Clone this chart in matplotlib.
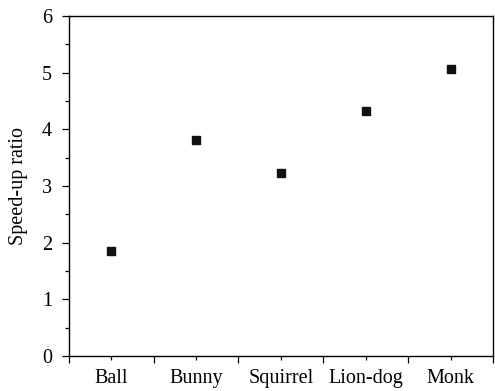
import numpy as np
import matplotlib.pyplot as plt
from matplotlib.ticker import MultipleLocator

plt.rcParams['font.family'] = ['Liberation Serif', 'DejaVu Serif']

models = ["Ball", "Bunny", "Squirrel", "Lion-dog", "Monk"]
speedup = [1.85, 3.81, 3.23, 4.32, 5.06]

fig = plt.figure(figsize=(4.95, 3.91), dpi=100)
ax = fig.add_axes([0.139, 0.0895, 0.857, 0.8695])

x = np.arange(len(models)) + 0.5
ax.plot(x, speedup, 's', color='#111111', markersize=5.8, linestyle='none')

ax.set_xlim(0, len(models))
ax.set_ylim(0, 6)
ax.xaxis.set_major_locator(MultipleLocator(1))
ax.set_xticklabels([])
ax.set_xticks(x, minor=True)
ax.set_xticklabels(models, minor=True, fontsize=14.5)
ax.yaxis.set_major_locator(MultipleLocator(1))
ax.yaxis.set_minor_locator(MultipleLocator(0.5))
ax.tick_params(axis='both', which='major', direction='out', length=5, width=0.9, labelsize=14.5)
ax.tick_params(axis='y', which='major', pad=7)
ax.tick_params(axis='both', which='minor', direction='out', length=3, width=0.9)
ax.tick_params(axis='x', which='minor', pad=6)
ax.set_ylabel("Speed-up ratio", fontsize=14.5, labelpad=10)
for s in ax.spines.values():
    s.set_linewidth(1.0)

fig.savefig("out.png", dpi=100)
